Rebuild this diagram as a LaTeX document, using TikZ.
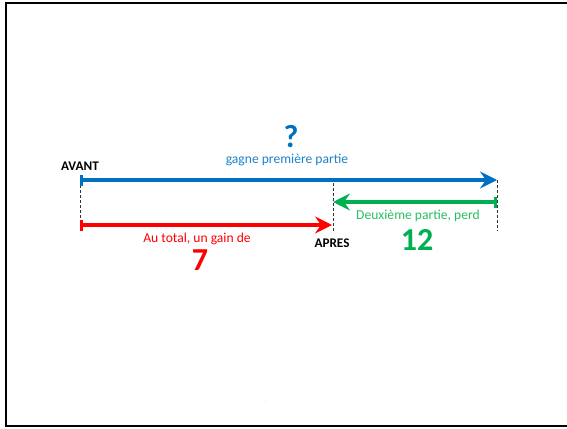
\documentclass[tikz,border=0pt]{standalone}
\usepackage{fontspec}
\setmainfont{Carlito}
\usetikzlibrary{arrows.meta}
\definecolor{obleu}{RGB}{0,112,192}
\definecolor{obleuclair}{RGB}{30,130,205}
\definecolor{overt}{RGB}{0,176,80}
\definecolor{overtclair}{RGB}{40,190,100}
\definecolor{orouge}{RGB}{255,0,0}
\tikzset{
  startbar/.style={line width=3.3pt, {Bar[width=11pt,line width=3.3pt]}-{Stealth[length=17pt,width=17pt,inset=6pt]}},
  guide/.style={line width=0.8pt, densely dashed, black!80},
  tag/.style={font=\fontsize{13.2}{15}\selectfont\bfseries, text=black, inner sep=0pt},
  lab/.style={font=\fontsize{13.6}{16}\selectfont, inner sep=0pt},
  big/.style={font=\fontsize{32}{35}\selectfont\bfseries, inner sep=0pt},
}
\begin{document}
\begin{tikzpicture}[x=1pt,y=-1pt]
  \useasboundingbox (0,0) rectangle (567,428);
  \begin{scope}
    \clip (0,0) rectangle (567,428);
    \draw[line width=2.3pt, black] (6,3) rectangle (600,426);
  \end{scope}

  % points on the number line
  \coordinate (avant) at (80,180);
  \coordinate (fin) at (497,180);
  \coordinate (avantB) at (80,225);
  \coordinate (apresB) at (332,225);
  \coordinate (finV) at (497,202);
  \coordinate (apresV) at (333,202);
  \coordinate (avantBas) at (80,231);
  \coordinate (apresHaut) at (333,183);
  \coordinate (apresBas) at (333,232);
  \coordinate (finBas) at (497,231);

  % dashed guides
  \draw[guide] (avant) -- (avantBas);
  \draw[guide] (apresHaut) -- (apresBas);
  \draw[guide] (fin) -- (finBas);

  % arrows
  \draw[startbar, obleu] (avant) -- (fin);
  \draw[startbar, overt] (finV) -- (apresV);
  \draw[startbar, orouge] (avantB) -- (apresB);

  % labels
  \node[tag] (lavant) at (80,166) {AVANT};
  \node[tag] (lapres) at (332,243) {APRES};
  \node[big, text=obleu] (q) at (291,137) {?};
  \node[lab, text=obleuclair] (lgagne) at (287,160) {gagne première partie};
  \node[lab, text=orouge] (ltotal) at (197,239) {Au total, un gain de};
  \node[big, text=orouge] (sept) at (200,260) {7};
  \node[lab, text=overtclair] (lperd) at (418,216) {Deuxième partie, perd};
  \node[big, text=overt] (douze) at (417,240) {12};
  \node[font=\fontsize{4}{4}\selectfont, text=black!40, inner sep=0pt] (trait) at (266,403) {-};
\end{tikzpicture}
\end{document}
